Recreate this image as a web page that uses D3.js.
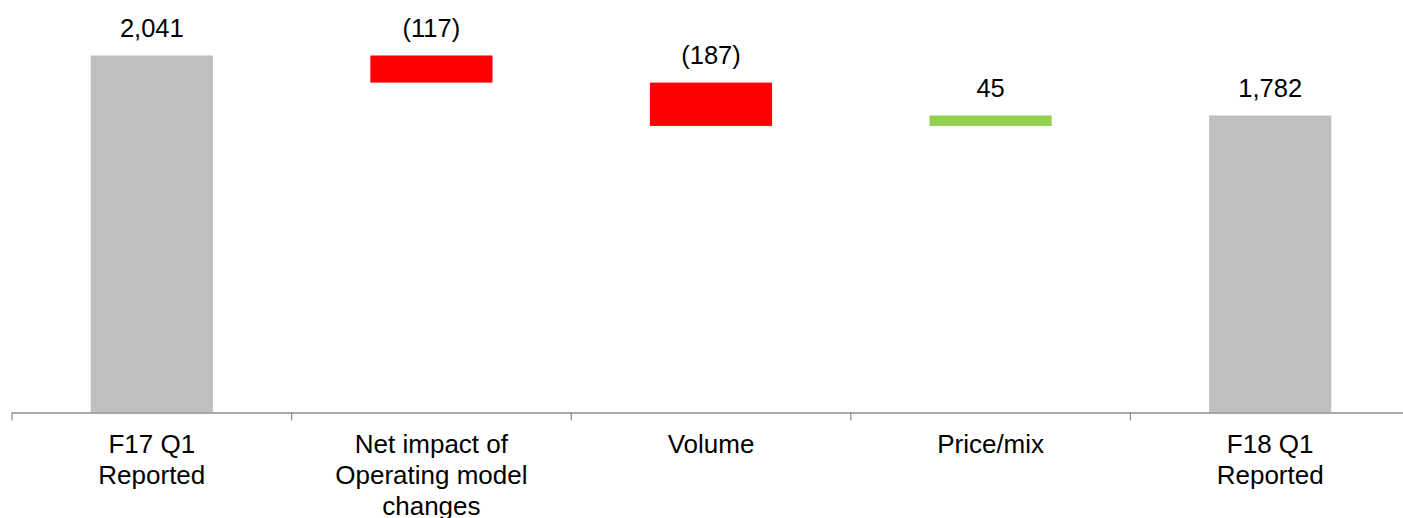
<!DOCTYPE html>
<html>
<head>
<meta charset="utf-8">
<script src="https://cdn.jsdelivr.net/npm/d3@7/dist/d3.min.js"></script>
<style>
  html, body { margin: 0; padding: 0; background: #fff; }
  svg { display: block; font-family: "Liberation Sans", Arial, sans-serif; }
</style>
</head>
<body>
<svg id="chart" width="1403" height="518"></svg>
<script>
// Waterfall: F17 Q1 to F18 Q1 reported
const categories = [
  ["F17 Q1", "Reported"],
  ["Net impact of", "Operating model", "changes"],
  ["Volume"],
  ["Price/mix"],
  ["F18 Q1", "Reported"]
];
const values = [2041, -117, -187, 45, 1782];
const kinds = ["total", "delta", "delta", "delta", "total"];
const valueLabels = ["2,041", "(117)", "(187)", "45", "1,782"];

const colors = { total: "#BFBFBF", down: "#FF0000", up: "#92D050" };

// Build floating segments from the running total
let running = 0;
const bars = values.map((v, i) => {
  let lo, hi, fill;
  if (kinds[i] === "total") {
    running = v; lo = null; hi = v; fill = colors.total;
  } else {
    const start = running; running += v;
    lo = Math.min(start, running); hi = Math.max(start, running);
    fill = v < 0 ? colors.down : colors.up;
  }
  return { i, lo, hi, fill, label: valueLabels[i] };
});

const svg = d3.select("#chart");
const axisY = 412.5;

const x = d3.scaleBand()
  .domain(d3.range(categories.length))
  .range([12, 1410])
  .padding(0);

const y = d3.scaleLinear()
  .domain([500, 2000])
  .range([axisY, 65]);

const barW = x.bandwidth() * 0.437;

svg.append("g").selectAll("rect")
  .data(bars)
  .join("rect")
  .attr("x", d => x(d.i) + (x.bandwidth() - barW) / 2)
  .attr("width", barW)
  .attr("y", d => y(d.hi))
  .attr("height", d => (d.lo === null ? axisY : y(d.lo)) - y(d.hi))
  .attr("fill", d => d.fill);

// Value labels above each bar
svg.append("g").selectAll("text")
  .data(bars)
  .join("text")
  .attr("x", d => x(d.i) + x.bandwidth() / 2)
  .attr("y", d => y(d.hi) - 19)
  .attr("text-anchor", "middle")
  .attr("font-size", 25.5)
  .attr("fill", "#000")
  .text(d => d.label);

// Category axis with ticks on band boundaries
const axis = svg.append("g");
axis.append("line")
  .attr("x1", x.range()[0]).attr("x2", x.range()[1])
  .attr("y1", axisY + 0.5).attr("y2", axisY + 0.5)
  .attr("stroke", "#8C8C8C").attr("stroke-width", 1.5);

const boundaries = d3.range(categories.length + 1).map(k => x.range()[0] + k * x.step());
axis.selectAll("line.tick")
  .data(boundaries)
  .join("line")
  .attr("class", "tick")
  .attr("x1", d => d).attr("x2", d => d)
  .attr("y1", axisY).attr("y2", axisY + 8)
  .attr("stroke", "#8C8C8C").attr("stroke-width", 1.2);

const catLabels = axis.selectAll("text")
  .data(categories)
  .join("text")
  .attr("text-anchor", "middle")
  .attr("font-size", 26)
  .attr("fill", "#000");

catLabels.selectAll("tspan")
  .data((d, i) => d.map((line, j) => ({ line, j, i })))
  .join("tspan")
  .attr("x", d => x(d.i) + x.bandwidth() / 2)
  .attr("y", d => 453 + d.j * 31)
  .text(d => d.line);
</script>
</body>
</html>
